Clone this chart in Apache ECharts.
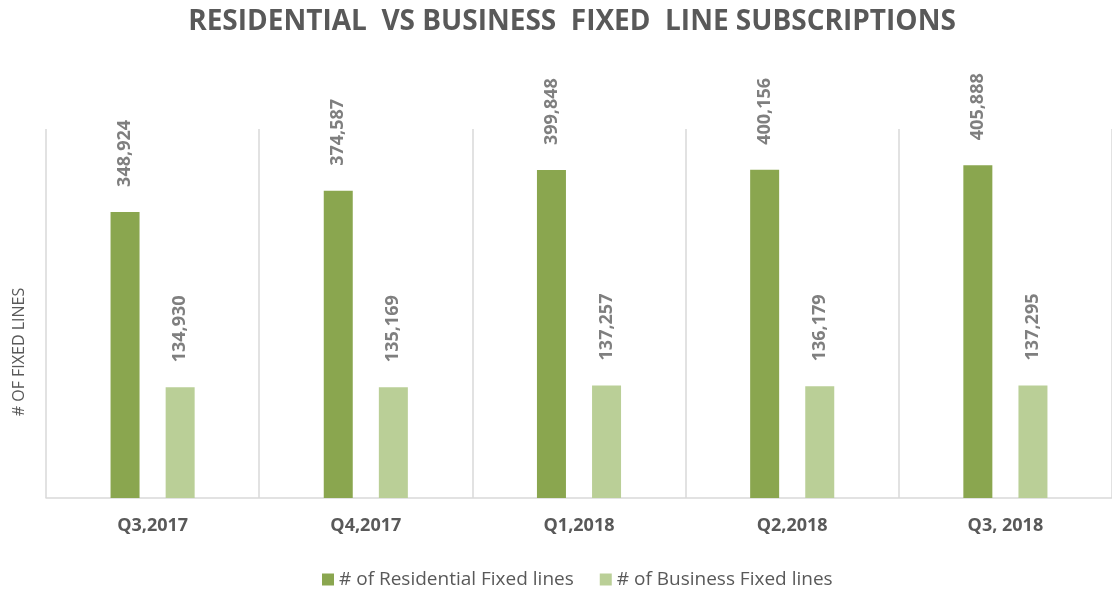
<!DOCTYPE html>
<html>
<head>
<meta charset="utf-8">
<script src="https://cdn.jsdelivr.net/npm/echarts@6/dist/echarts.min.js"></script>
<style>
    html, body { margin: 0; padding: 0; background: #fff; }
    #mainChartBlock { width: 1112px; height: 590px; }
</style>
</head>
<body>
<div id="mainChartBlock"></div>
<script>
var quarters = ["Q3,2017", "Q4,2017", "Q1,2018", "Q2,2018", "Q3, 2018"];
var residential = [348924, 374587, 399848, 400156, 405888];
var business = [134930, 135169, 137257, 136179, 137295];
var seriesNames = ["# of Residential Fixed lines", "# of Business Fixed lines"];

var darkGreen = "#8aa64f";
var lightGreen = "#bacf97";
var textGray = "#595959";

function valueLabel() {
    return {
        show: true,
        position: 'top',
        rotate: 90,
        align: 'left',
        verticalAlign: 'middle',
        distance: 25,
        color: '#7f7f7f',
        fontSize: 18,
        fontWeight: 'bold',
        fontFamily: 'Open Sans',
        formatter: function (p) {
            return p.value.toLocaleString('en-US');
        }
    };
}

var myChart = echarts.init(document.getElementById('mainChartBlock'));
var option = {
    animation: false,
    textStyle: { fontFamily: 'Open Sans' },
    title: {
        text: "RESIDENTIAL  VS BUSINESS  FIXED  LINE SUBSCRIPTIONS",
        left: 567,
        top: 3,
        textAlign: 'center',
        textStyle: {
            color: textGray,
            fontSize: 28,
            fontWeight: 'bold',
            fontFamily: 'Open Sans'
        }
    },
    legend: {
        data: seriesNames,
        top: 565,
        left: 317,
        itemWidth: 12,
        itemHeight: 12,
        itemGap: 26,
        icon: 'rect',
        textStyle: {
            color: textGray,
            fontSize: 19,
            fontFamily: 'Open Sans'
        }
    },
    graphic: [{
        type: 'text',
        x: 19,
        y: 352,
        rotation: Math.PI / 2,
        style: {
            text: "# OF FIXED LINES",
            fill: textGray,
            fontSize: 16,
            fontFamily: 'Open Sans',
            align: 'center',
            verticalAlign: 'middle'
        }
    }],
    grid: {
        left: 46,
        top: 129,
        width: 1070,
        bottom: 92
    },
    xAxis: {
        type: 'category',
        data: quarters,
        boundaryGap: true,
        axisLine: { lineStyle: { color: '#d9d9d9', width: 1.5 } },
        axisTick: { show: false },
        splitLine: { show: true, lineStyle: { color: '#d9d9d9', width: 1.5 } },
        axisLabel: {
            margin: 19,
            color: textGray,
            fontSize: 18,
            fontWeight: 'bold',
            fontFamily: 'Open Sans'
        }
    },
    yAxis: {
        type: 'value',
        min: 0,
        max: 450000,
        show: false,
        splitLine: { show: false }
    },
    series: [
        {
            name: seriesNames[0],
            type: 'bar',
            data: residential,
            barWidth: 29,
            barGap: '90%',
            itemStyle: { color: darkGreen },
            label: valueLabel()
        },
        {
            name: seriesNames[1],
            type: 'bar',
            data: business,
            barWidth: 29,
            barGap: '90%',
            itemStyle: { color: lightGreen },
            label: valueLabel()
        }
    ]
};
myChart.setOption(option);
</script>
</body>
</html>
